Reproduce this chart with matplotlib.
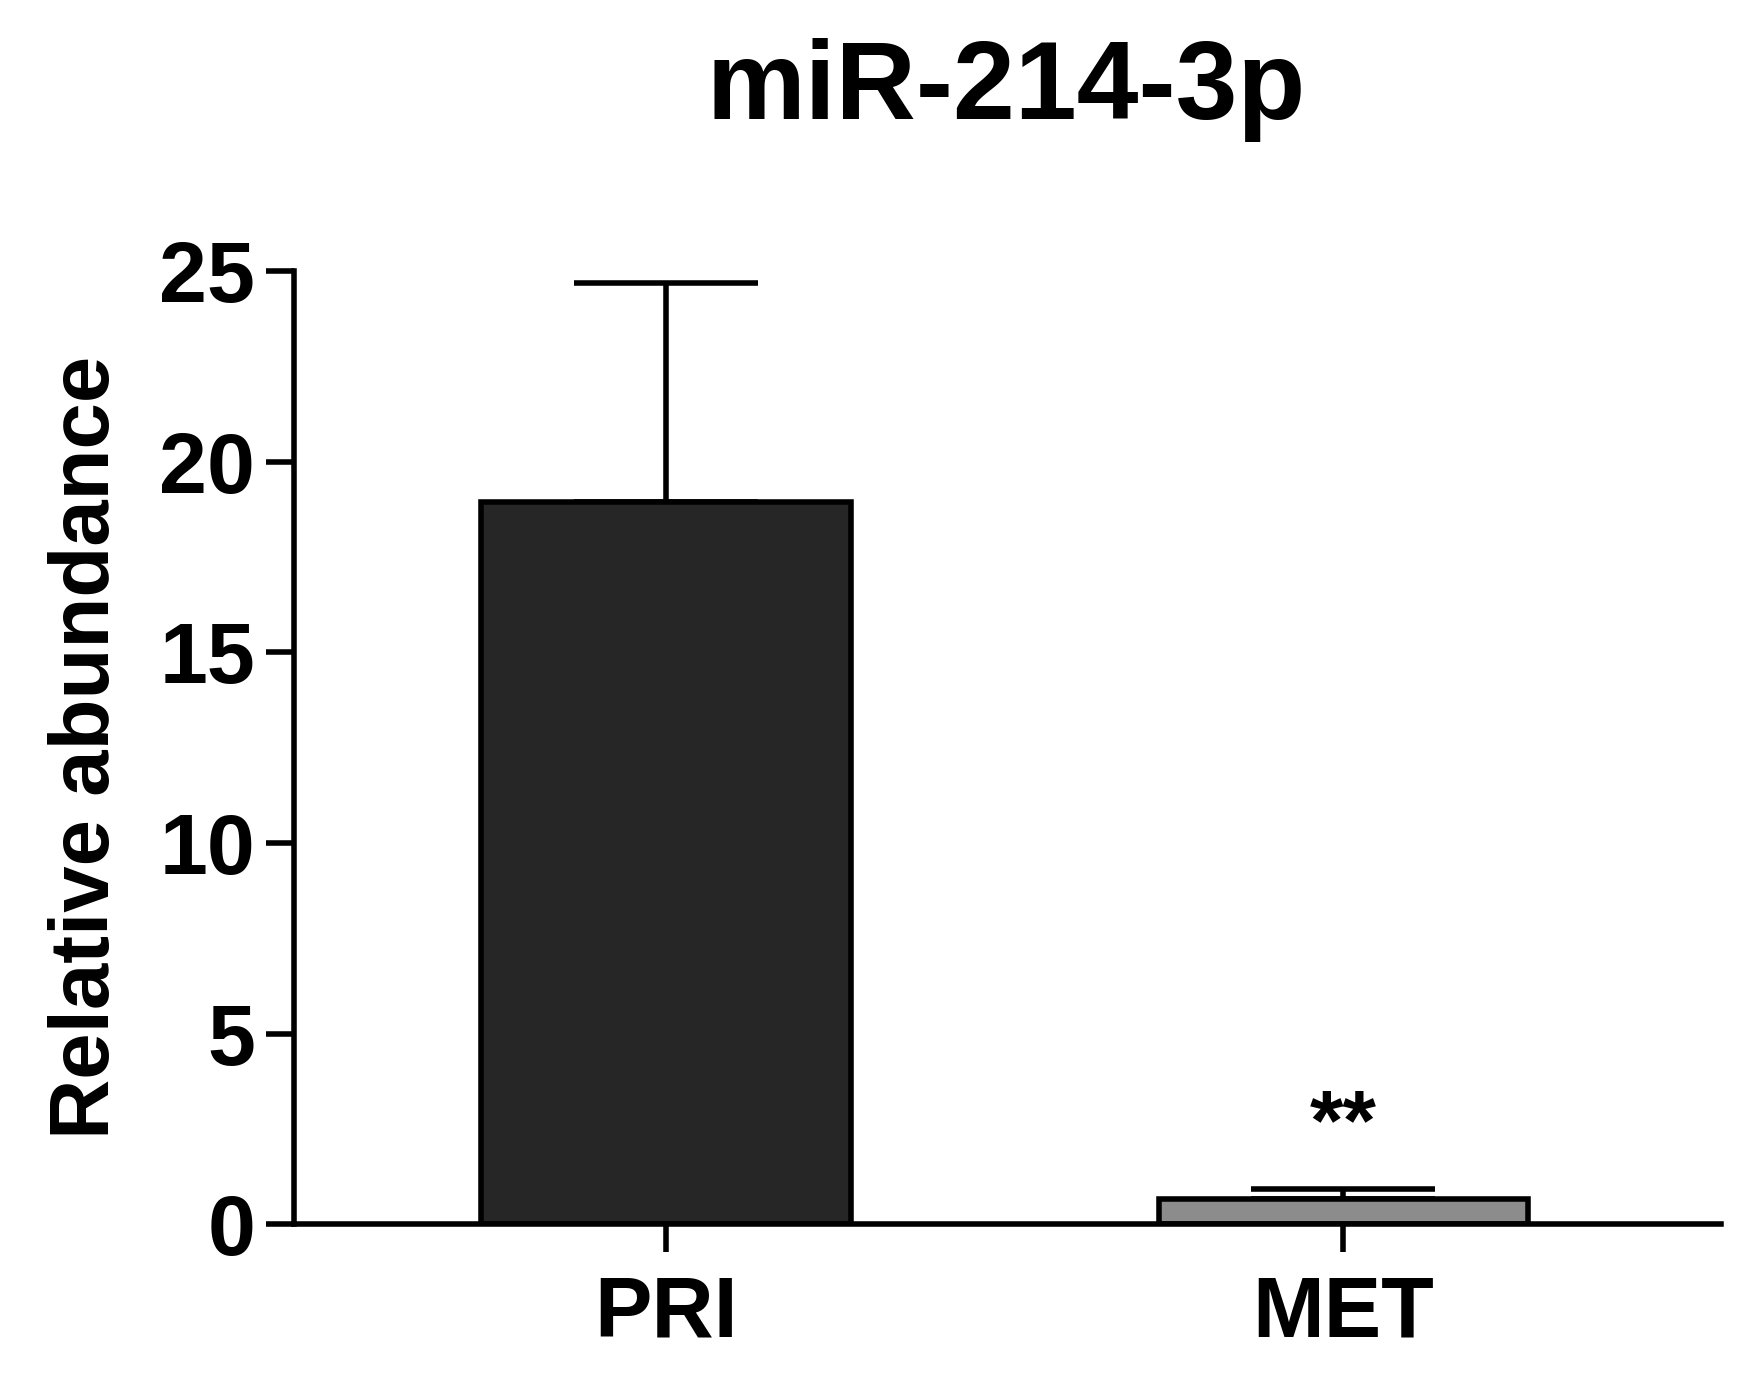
import matplotlib.pyplot as plt

# data
groups = ["PRI", "MET"]
means = [18.95, 0.67]
errors_up = [5.75, 0.26]
bar_colors = ["#262626", "#8c8c8c"]

plt.rcParams["font.family"] = ["Liberation Sans", "DejaVu Sans"]
plt.rcParams["font.weight"] = "bold"

fig = plt.figure(figsize=(17.4, 13.77), dpi=100)
ax = fig.add_axes([0.169, 0.111, 0.82, 0.692])

x = [0, 1]
ax.bar(x, means, width=0.546, color=bar_colors, edgecolor="black", linewidth=4, zorder=2)
ax.errorbar(x, means, yerr=[[0, 0], errors_up], fmt="none", ecolor="black",
            elinewidth=4, capsize=66, capthick=4, zorder=1)

ax.text(1, 2.55, "**", ha="center", va="center", fontsize=62, fontweight="bold")

ax.set_xlim(-0.549, 1.557)
ax.set_ylim(0, 25)
ax.set_yticks([0, 5, 10, 15, 20, 25])
ax.set_xticks(x)
ax.set_xticklabels(groups)
ax.tick_params(axis="both", labelsize=62, width=4, length=20, pad=8)
for lab in ax.get_xticklabels() + ax.get_yticklabels():
    lab.set_fontweight("bold")
ax.tick_params(axis="x", pad=16)

for s in ["top", "right"]:
    ax.spines[s].set_visible(False)
for s in ["left", "bottom"]:
    ax.spines[s].set_linewidth(4)

ax.set_ylabel("Relative abundance", fontsize=60, fontweight="bold", labelpad=24)
fig.text(0.578, 0.935, "miR-214-3p", ha="center", va="center", fontsize=80, fontweight="bold")

fig.savefig("out.png", dpi=100)
